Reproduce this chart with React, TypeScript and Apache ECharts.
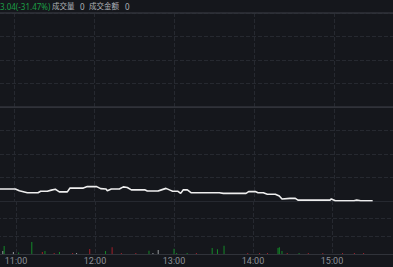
import React, { useEffect, useRef } from "react";
import * as echarts from "echarts";

// Intraday price, % change vs previous close
const priceTimes = [
  "10:49", "11:01", "11:04", "11:10", "11:18", "11:20", "11:25", "11:28", "11:31", "11:32",
  "11:34", "11:40", "11:42", "11:52", "11:55", "12:02", "12:05", "12:09", "12:10", "12:13",
  "12:19", "12:22", "12:25", "12:28", "12:38", "12:40", "12:48", "12:50", "12:54", "12:57",
  "12:59", "13:03", "13:05", "13:07", "13:10", "13:13", "13:34", "13:37", "13:54", "13:56",
  "14:01", "14:03", "14:07", "14:10", "14:16", "14:19", "14:21", "14:27", "14:31", "14:33",
  "14:57", "14:58", "15:01", "15:15", "15:17", "15:20", "15:29",
];
const priceValues = [
  -27.9, -27.9, -28.5, -29.2, -29.2, -28.7, -28.7, -28.3, -28.0, -28.3,
  -28.9, -28.9, -27.6, -27.6, -27.1, -27.1, -27.8, -27.9, -28.5, -27.9,
  -27.9, -27.2, -27.4, -28.2, -28.2, -28.6, -28.6, -28.3, -27.7, -28.3,
  -28.7, -28.7, -29.4, -28.2, -28.2, -29.2, -29.2, -29.4, -29.4, -28.8,
  -28.8, -29.2, -29.2, -29.7, -29.7, -30.3, -31.3, -31.1, -31.1, -31.7,
  -31.7, -31.3, -31.9, -31.9, -31.7, -31.9, -31.9,
];

// Volume bars: time, volume, direction (u = up/green, d = down/red, f = flat/grey)
const volTimes = [
  "10:50", "10:51", "10:58", "11:02", "11:12", "11:20", "11:22", "11:29", "11:33", "11:43",
  "11:46", "11:56", "12:08", "12:13", "12:20", "12:31", "12:41", "12:44", "12:48", "13:00",
  "13:02", "13:10", "13:17", "13:29", "13:33", "13:38", "13:56", "14:05", "14:11", "14:19",
  "14:20", "14:22", "14:26", "14:35", "14:42", "14:53", "15:08", "15:17", "15:24",
];
const volValues = [
  1.7, 4.5, 1.1, 0.8, 6.8, 1.1, 1.7, 0.6, 1.1, 0.6,
  0.6, 2.8, 1.7, 3.8, 0.6, 0.6, 1.9, 0.6, 2.3, 3.0,
  0.6, 0.6, 0.6, 3.4, 2.7, 4.7, 0.6, 0.6, 0.6, 3.4,
  3.8, 1.7, 0.6, 0.6, 0.6, 0.6, 0.6, 0.6, 0.6,
];
const volDirs = [
  "f", "u", "f", "u", "u", "d", "u", "d", "u", "d",
  "f", "d", "u", "d", "d", "d", "u", "f", "f", "u",
  "u", "u", "d", "u", "u", "u", "d", "d", "d", "u",
  "u", "u", "d", "u", "d", "d", "d", "d", "d",
];

const headerChange = "3.04(-31.47%)";
const headerVolLabel = "成交量";
const headerVolValue = "0";
const headerAmtLabel = "成交金额";
const headerAmtValue = "0";

const toMin = (s: string) => {
  const [h, m] = s.split(":").map(Number);
  return h * 60 + m;
};
const fmt = (v: number) => {
  const h = Math.floor(v / 60);
  const m = v % 60;
  return `${h}:${m < 10 ? "0" + m : m}`;
};

const BG = "#15171c";
const GRID_DASH = "#262930";
const GRID_SOLID = "#30333a";
const UP = "#138a28";
const DOWN = "#a3202a";
const FLAT = "#9a9ca0";
const SHIFT = 66; // the session starts off-screen to the left
const CHART_W = 480;

export default function App() {
  const ref = useRef<HTMLDivElement>(null);
  useEffect(() => {
    document.body.style.margin = "0";
    if (!ref.current) return;
    const chart = echarts.init(ref.current, null, { renderer: "svg" });
    const priceData = priceTimes.map((t, i) => [toMin(t), priceValues[i]]);
    const colorFor = (d: string) => (d === "u" ? UP : d === "d" ? DOWN : FLAT);
    const volData = volTimes.map((t, i) => ({
      value: [toMin(t), volValues[i]],
      itemStyle: { color: colorFor(volDirs[i]) },
    }));
    const xCommon = {
      type: "value" as const,
      min: 600,
      max: 960,
      interval: 60,
      splitLine: { show: true, lineStyle: { color: GRID_DASH, type: "dashed" as const, width: 1 } },
      axisTick: { show: false },
    };
    chart.setOption({
      animation: false,
      backgroundColor: BG,
      grid: [
        { left: 0, right: 0, top: 13, height: 188 },
        { left: 0, right: 0, top: 201, height: 53 },
      ],
      xAxis: [
        {
          ...xCommon,
          gridIndex: 0,
          axisLine: { show: true, lineStyle: { color: GRID_SOLID } },
          axisLabel: { show: false },
        },
        {
          ...xCommon,
          gridIndex: 1,
          axisLine: { show: true, lineStyle: { color: GRID_SOLID } },
          axisLabel: {
            show: true,
            color: "#8c8f96",
            fontSize: 9,
            margin: 2,
            fontFamily: "Roboto, sans-serif",
            formatter: (v: number) => (v <= 600 || v >= 960 ? "" : fmt(v)),
          },
        },
      ],
      yAxis: [
        {
          type: "value",
          gridIndex: 0,
          min: -32,
          max: 32,
          interval: 8,
          axisLine: { show: false },
          axisTick: { show: false },
          axisLabel: { show: false },
          splitLine: { show: true, lineStyle: { color: GRID_DASH, type: "dashed", width: 1 } },
        },
        {
          type: "value",
          gridIndex: 1,
          min: 0,
          max: 30,
          interval: 10,
          axisLine: { show: false },
          axisTick: { show: false },
          axisLabel: { show: false },
          splitLine: { show: true, lineStyle: { color: GRID_DASH, type: "dashed", width: 1 } },
        },
      ],
      series: [
        {
          type: "line",
          xAxisIndex: 0,
          yAxisIndex: 0,
          data: priceData,
          showSymbol: false,
          symbol: "none",
          lineStyle: { color: "#eeeeee", width: 1.6 },
          z: 5,
          markLine: {
            silent: true,
            symbol: "none",
            label: { show: false },
            lineStyle: { color: GRID_SOLID, type: "solid", width: 1.5 },
            data: [{ yAxis: 0 }, { yAxis: 32 }],
            z: 1,
          },
        },
        {
          type: "bar",
          xAxisIndex: 1,
          yAxisIndex: 1,
          data: volData,
          barWidth: 1,
        },
      ],
      graphic: [
        {
          type: "text",
          left: SHIFT + 0,
          top: 2,
          style: { text: headerChange, fill: "#1c9e46", font: "8px 'Noto Sans', sans-serif" },
        },
        {
          type: "text",
          left: SHIFT + 52,
          top: 2,
          style: { text: headerVolLabel, fill: "#b0b3b8", font: "7.5px 'Noto Sans CJK SC', sans-serif" },
        },
        {
          type: "text",
          left: SHIFT + 80,
          top: 2,
          style: { text: headerVolValue, fill: "#b0b3b8", font: "8px 'Noto Sans', sans-serif" },
        },
        {
          type: "text",
          left: SHIFT + 89,
          top: 2,
          style: { text: headerAmtLabel, fill: "#b0b3b8", font: "7.5px 'Noto Sans CJK SC', sans-serif" },
        },
        {
          type: "text",
          left: SHIFT + 125,
          top: 2,
          style: { text: headerAmtValue, fill: "#b0b3b8", font: "8px 'Noto Sans', sans-serif" },
        },
      ],
    });
    return () => chart.dispose();
  }, []);
  return (
    <div
      style={{
        width: 393,
        height: 267,
        position: "absolute",
        left: 0,
        top: 0,
        overflow: "hidden",
        background: BG,
      }}
    >
      <div
        ref={ref}
        style={{ width: CHART_W, height: 267, position: "absolute", left: -SHIFT, top: 0 }}
      />
    </div>
  );
}
